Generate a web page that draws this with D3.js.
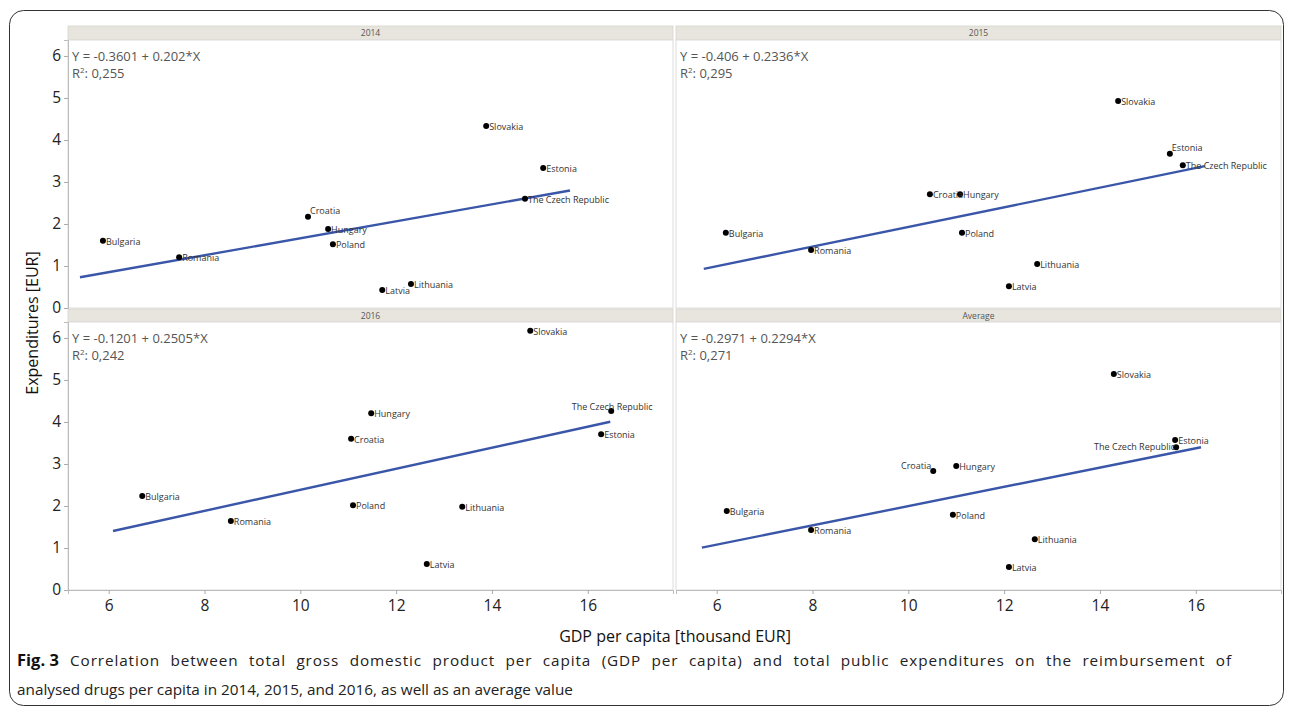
<!DOCTYPE html>
<html>
<head>
<meta charset="utf-8">
<script src="https://cdn.jsdelivr.net/npm/d3@7"></script>
<style>
  html, body { margin: 0; padding: 0; background: #fff; }
  svg { display: block; font-family: "Open Sans", "Noto Sans", sans-serif; }
</style>
</head>
<body>
<svg id="chart" width="1293" height="713"></svg>
<script>
// ---------- data ----------
const panelNames = ["2014", "2015", "2016", "Average"];
const countries = ["Bulgaria", "Romania", "Croatia", "Hungary", "Poland", "Latvia", "Lithuania", "Slovakia", "Estonia", "The Czech Republic"];

const gdp2014 = [5.88, 7.47, 10.16, 10.58, 10.68, 11.71, 12.31, 13.88, 15.07, 14.69];
const exp2014 = [1.60, 1.21, 2.17, 1.88, 1.52, 0.43, 0.57, 4.33, 3.33, 2.60];

const gdp2015 = [6.19, 7.97, 10.45, 11.08, 11.12, 12.10, 12.69, 14.38, 15.46, 15.73];
const exp2015 = [1.79, 1.38, 2.71, 2.71, 1.79, 0.52, 1.05, 4.93, 3.67, 3.40];

const gdp2016 = [6.70, 8.55, 11.06, 11.48, 11.10, 12.64, 13.38, 14.80, 16.28, 16.49];
const exp2016 = [2.24, 1.64, 3.60, 4.21, 2.02, 0.62, 1.98, 6.17, 3.71, 4.26];

const gdpAvg = [6.21, 7.97, 10.52, 11.00, 10.93, 12.10, 12.64, 14.29, 15.57, 15.59];
const expAvg = [1.88, 1.43, 2.83, 2.95, 1.79, 0.55, 1.21, 5.14, 3.57, 3.40];

const intercepts = [-0.3601, -0.406, -0.1201, -0.2971];
const slopes = [0.202, 0.2336, 0.2505, 0.2294];
const equationLabels = ["Y = -0.3601 + 0.202*X", "Y = -0.406 + 0.2336*X", "Y = -0.1201 + 0.2505*X", "Y = -0.2971 + 0.2294*X"];
const r2Labels = ["0,255", "0,295", "0,242", "0,271"];
const fitFrom = [5.40, 5.73, 6.09, 5.69];
const fitTo = [15.63, 16.19, 16.47, 16.11];

const xTicks = [6, 8, 10, 12, 14, 16];
const yTicks = [0, 1, 2, 3, 4, 5, 6];

// label placement exceptions (default: right of point)
const labelPlacement = [
  { "Croatia": "aboveRight" },
  { "Estonia": "aboveRight" },
  { "The Czech Republic": "aboveCenter" },
  { "Croatia": "aboveLeft", "The Czech Republic": "left" }
];

const seriesX = [gdp2014, gdp2015, gdp2016, gdpAvg];
const seriesY = [exp2014, exp2015, exp2016, expAvg];

const captionBold = "Fig. 3";
const captionLine1 = "Correlation between total gross domestic product per capita (GDP per capita) and total public expenditures on the reimbursement of";
const captionLine2 = "analysed drugs per capita in 2014, 2015, and 2016, as well as an average value";

// ---------- layout ----------
const svg = d3.select("#chart");
const cols = [[68, 673], [676, 1281]];
const rows = [{ head: 26, top: 40, bottom: 308 }, { head: 309, top: 322, bottom: 590 }];
const xDomain = [5.15, 17.78];
const yDomain = [0, 6.38];

// outer frame
svg.append("rect")
  .attr("x", 9.5).attr("y", 10.5).attr("width", 1274).attr("height", 695)
  .attr("rx", 14).attr("fill", "none").attr("stroke", "#333").attr("stroke-width", 1);

panelNames.forEach((name, i) => {
  const c = cols[i % 2], r = rows[Math.floor(i / 2)];
  const x = d3.scaleLinear().domain(xDomain).range(c);
  const y = d3.scaleLinear().domain(yDomain).range([r.bottom, r.top]);
  const g = svg.append("g");

  // header strip
  g.append("rect")
    .attr("x", c[0]).attr("y", r.head).attr("width", c[1] - c[0]).attr("height", r.top - r.head)
    .attr("fill", "#e7e5de").attr("stroke", "#d6d4cc").attr("stroke-width", 0.8);
  g.append("text")
    .attr("x", (c[0] + c[1]) / 2).attr("y", (r.head + r.top) / 2 + 3)
    .attr("text-anchor", "middle").attr("font-size", 8.5).attr("fill", "#555")
    .text(name);

  // panel frame
  g.append("rect")
    .attr("x", c[0]).attr("y", r.top).attr("width", c[1] - c[0]).attr("height", r.bottom - r.top)
    .attr("fill", "#fff").attr("stroke", "#dcdcdc").attr("stroke-width", 1);

  // y axis on left column
  if (i % 2 === 0) {
    const ya = g.append("g").attr("transform", `translate(${c[0]},0)`)
      .call(d3.axisLeft(y).tickValues(yTicks).tickSize(4).tickPadding(3).tickFormat(d3.format("d")));
    ya.select(".domain").attr("stroke", "#bbb");
    ya.selectAll(".tick line").attr("stroke", "#aaa");
    ya.selectAll(".tick text").attr("font-size", 15.5).attr("fill", "#222")
      .attr("font-family", "'Open Sans', sans-serif");
  }
  // x axis on bottom row
  if (i >= 2) {
    const xa = g.append("g").attr("transform", `translate(0,${r.bottom})`)
      .call(d3.axisBottom(x).tickValues(xTicks).tickSize(4).tickPadding(6).tickFormat(d3.format("d")));
    xa.select(".domain").attr("stroke", "#bbb");
    xa.selectAll(".tick line").attr("stroke", "#aaa");
    xa.selectAll(".tick text").attr("font-size", 15.5).attr("fill", "#222")
      .attr("font-family", "'Open Sans', sans-serif");
  }

  // equation and R2
  g.append("text")
    .attr("x", c[0] + 4).attr("y", r.top + 21)
    .attr("font-size", 13).attr("fill", "#555")
    .text(equationLabels[i]);
  const rt = g.append("text")
    .attr("x", c[0] + 4).attr("y", r.top + 38)
    .attr("font-size", 13).attr("fill", "#555");
  rt.append("tspan").text("R");
  rt.append("tspan").attr("dy", -5).attr("font-size", 8).text("2");
  rt.append("tspan").attr("dy", 5).text(": " + r2Labels[i]);

  // regression line
  const fit = [fitFrom[i], fitTo[i]].map(v => [v, intercepts[i] + slopes[i] * v]);
  g.append("path")
    .datum(fit)
    .attr("d", d3.line().x(d => x(d[0])).y(d => y(d[1])))
    .attr("stroke", "#3a56a8").attr("stroke-width", 2.4).attr("fill", "none");

  // points
  const xs = seriesX[i];
  const ys = seriesY[i];
  const pts = countries.map((cn, k) => ({ name: cn, gx: xs[k], ey: ys[k] }));

  g.selectAll("circle.pt").data(pts).enter().append("circle")
    .attr("cx", d => x(d.gx)).attr("cy", d => y(d.ey)).attr("r", 3)
    .attr("fill", "#000");

  g.selectAll("text.lbl").data(pts).enter().append("text")
    .attr("font-size", 9).attr("fill", "#333")
    .each(function (d) {
      const mode = labelPlacement[i][d.name] || "right";
      const t = d3.select(this);
      const px = x(d.gx), py = y(d.ey);
      if (mode === "right") t.attr("x", px + 3).attr("y", py + 4).attr("text-anchor", "start");
      else if (mode === "aboveRight") t.attr("x", px + 2).attr("y", py - 3).attr("text-anchor", "start");
      else if (mode === "aboveCenter") t.attr("x", px + 1).attr("y", py - 1).attr("text-anchor", "middle");
      else if (mode === "aboveLeft") t.attr("x", px - 2).attr("y", py - 2).attr("text-anchor", "end");
      else if (mode === "left") t.attr("x", px - 1).attr("y", py + 3).attr("text-anchor", "end");
      t.text(d.name);
    });
});

// axis titles
svg.append("text")
  .attr("transform", "translate(38,323) rotate(-90)")
  .attr("text-anchor", "middle").attr("font-size", 16).attr("fill", "#111")
  .text("Expenditures [EUR]");
svg.append("text")
  .attr("x", 675).attr("y", 642)
  .attr("text-anchor", "middle").attr("font-size", 16).attr("fill", "#111")
  .text("GDP per capita [thousand EUR]");

// caption (first line justified to the right edge)
svg.append("text").attr("x", 17).attr("y", 666).attr("font-size", 16.5)
  .attr("font-weight", "bold").attr("fill", "#111").text(captionBold);
const body1 = svg.append("text").attr("x", 70).attr("y", 666).attr("font-size", 15.3).attr("fill", "#222")
  .attr("letter-spacing", 0.9)
  .text(captionLine1);
const natural = body1.node().getComputedTextLength();
const spaces = (captionLine1.match(/ /g) || []).length;
const target = 1232 - 70;
if (natural < target) body1.attr("word-spacing", (target - natural) / spaces);
svg.append("text").attr("x", 17).attr("y", 695).attr("font-size", 15.3).attr("fill", "#222")
  .text(captionLine2);
</script>
</body>
</html>
